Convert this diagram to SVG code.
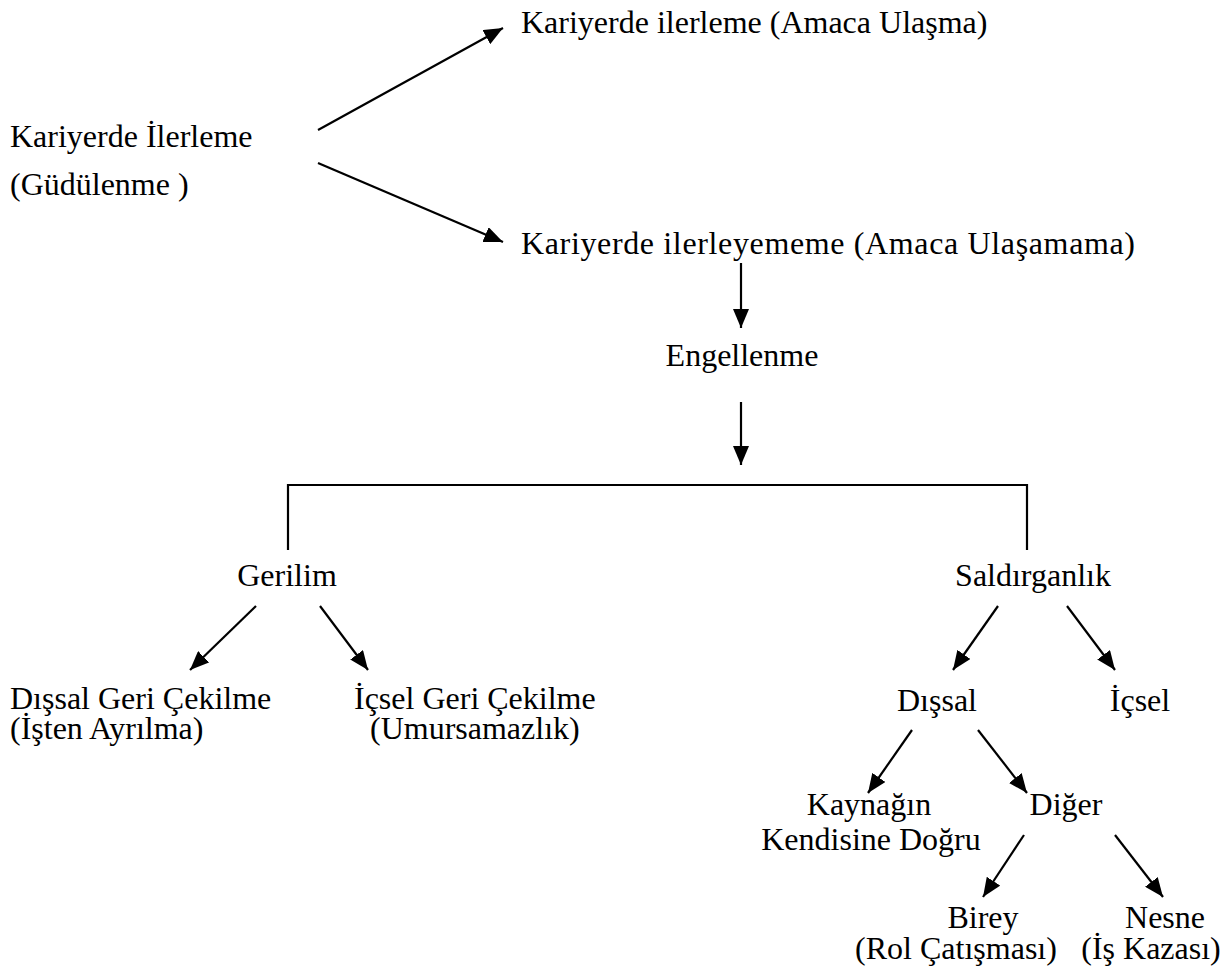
<svg xmlns="http://www.w3.org/2000/svg" width="1230" height="968" viewBox="0 0 1230 968">
<style>
text{font-family:"Liberation Serif","Times New Roman",serif;font-size:32px;fill:#000}
.c line,.c path{stroke:#000;stroke-width:2.2;fill:none}
</style>
<defs>
<marker id="ah" markerUnits="userSpaceOnUse" markerWidth="20" markerHeight="16" viewBox="0 0 20 16" refX="19" refY="8" orient="auto">
<path d="M0,0 L19,8 L0,16 Z" fill="#000"/>
</marker>
</defs>
<rect width="1230" height="968" fill="#fff"/>
<g class="c" id="connectors">
<line x1="318" y1="130" x2="503" y2="28" marker-end="url(#ah)"/>
<line x1="318" y1="163" x2="503" y2="242" marker-end="url(#ah)"/>
<line x1="741" y1="263" x2="741" y2="328" marker-end="url(#ah)"/>
<line x1="741" y1="402" x2="741" y2="465" marker-end="url(#ah)"/>
<path d="M288,550 V485 H1027 V550"/>
<line x1="256" y1="606" x2="190" y2="670" marker-end="url(#ah)"/>
<line x1="320" y1="606" x2="368" y2="670" marker-end="url(#ah)"/>
<line x1="998" y1="606" x2="953" y2="670" marker-end="url(#ah)"/>
<line x1="1067" y1="606" x2="1115" y2="670" marker-end="url(#ah)"/>
<line x1="912" y1="730" x2="868" y2="793" marker-end="url(#ah)"/>
<line x1="978" y1="730" x2="1027" y2="793" marker-end="url(#ah)"/>
<line x1="1024" y1="835" x2="983" y2="897" marker-end="url(#ah)"/>
<line x1="1115" y1="835" x2="1163" y2="897" marker-end="url(#ah)"/>
</g>
<g id="n-root"><text x="10" y="147">Kariyerde İlerleme</text><text x="10" y="195">(Güdülenme )</text></g>
<g id="n-ulasma"><text x="521" y="33">Kariyerde ilerleme (Amaca Ulaşma)</text></g>
<g id="n-ulasamama"><text x="521" y="254" textLength="614" lengthAdjust="spacing">Kariyerde ilerleyememe (Amaca Ulaşamama)</text></g>
<g id="n-engellenme"><text x="742" y="366" text-anchor="middle">Engellenme</text></g>
<g id="n-gerilim"><text x="287" y="586" text-anchor="middle">Gerilim</text></g>
<g id="n-saldirganlik"><text x="1033" y="586" text-anchor="middle">Saldırganlık</text></g>
<g id="n-dissal-geri"><text x="10" y="709">Dışsal Geri Çekilme</text><text x="10" y="739">(İşten Ayrılma)</text></g>
<g id="n-icsel-geri"><text x="354" y="709">İçsel Geri Çekilme</text><text x="370" y="739">(Umursamazlık)</text></g>
<g id="n-dissal"><text x="937" y="711" text-anchor="middle">Dışsal</text></g>
<g id="n-icsel"><text x="1140" y="711" text-anchor="middle">İçsel</text></g>
<g id="n-kaynak"><text x="869" y="815" text-anchor="middle">Kaynağın</text><text x="871" y="850" text-anchor="middle">Kendisine Doğru</text></g>
<g id="n-diger"><text x="1066" y="815" text-anchor="middle">Diğer</text></g>
<g id="n-birey"><text x="983" y="928" text-anchor="middle">Birey</text><text x="956" y="959" text-anchor="middle">(Rol Çatışması)</text></g>
<g id="n-nesne"><text x="1165" y="928" text-anchor="middle">Nesne</text><text x="1151" y="959" text-anchor="middle">(İş Kazası)</text></g>
</svg>
